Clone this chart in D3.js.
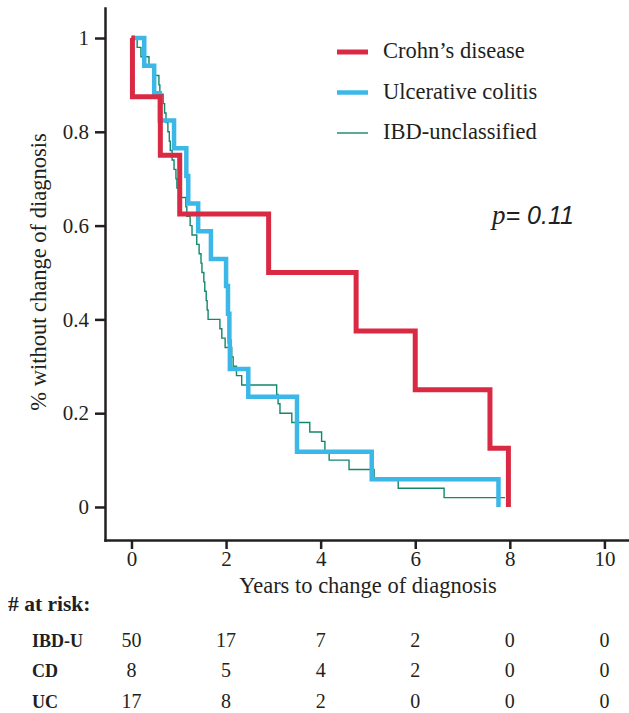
<!DOCTYPE html>
<html>
<head>
<meta charset="utf-8">
<script src="https://cdn.jsdelivr.net/npm/d3@7"></script>
<style>
  body { margin: 0; background: #fff; }
  svg text { font-family: "Liberation Serif", "DejaVu Serif", serif; fill: #231f20; }
  .axis path, .axis line { stroke: #231f20; stroke-width: 2.5; }
  .axis text { font-size: 21px; }
</style>
</head>
<body>
<script>
// Kaplan-Meier steps (time in years, survival after each step)
var cdTimes = [0, 0.02, 0.61, 1.02, 2.9, 4.75, 6.0, 7.58, 7.97];
var cdSurv  = [1, 0.875, 0.75, 0.625, 0.5, 0.375, 0.25, 0.125, 0];
var cdEnd = 7.97;

var ucTimes = [0, 0.27, 0.48, 0.6, 0.9, 1.16, 1.2, 1.41, 1.68, 2.0, 2.04, 2.07, 2.08, 2.47, 3.5, 5.08, 7.76];
var ucSurv  = [1, 0.941, 0.882, 0.824, 0.765, 0.706, 0.647, 0.588, 0.529, 0.471, 0.412, 0.353, 0.294, 0.235, 0.118, 0.059, 0];
var ucEnd = 7.76;

var ibduTimes = [0, 0.12, 0.2, 0.37, 0.5, 0.58, 0.6, 0.67, 0.7, 0.73, 0.77, 0.8, 0.82, 0.86, 0.9, 0.94, 0.96,
                 1.03, 1.15, 1.17, 1.24, 1.28, 1.38, 1.43, 1.47, 1.49, 1.53, 1.55, 1.58, 1.6, 1.62,
                 1.87, 1.91, 1.98, 2.12, 2.15, 2.22, 2.33, 3.07, 3.1, 3.14, 3.39, 3.77, 4.02, 4.09, 4.18,
                 4.6, 5.13, 5.64, 6.61];
var ibduSurv  = [1, 0.98, 0.96, 0.94, 0.92, 0.90, 0.88, 0.86, 0.84, 0.82, 0.80, 0.78, 0.76, 0.74, 0.72, 0.70, 0.68,
                 0.66, 0.64, 0.62, 0.60, 0.58, 0.56, 0.54, 0.52, 0.50, 0.48, 0.46, 0.44, 0.42, 0.40,
                 0.38, 0.36, 0.34, 0.32, 0.30, 0.28, 0.26, 0.24, 0.22, 0.20, 0.18, 0.16, 0.14, 0.12, 0.10,
                 0.08, 0.06, 0.04, 0.02];
var ibduEnd = 7.9;

// legend + numbers at risk
var seriesNames = ["Crohn\u2019s disease", "Ulcerative colitis", "IBD-unclassified"];
var riskTimes = [0, 2, 4, 6, 8, 10];
var riskGroups = ["IBD-U", "CD", "UC"];
var riskIBDU = [50, 17, 7, 2, 0, 0];
var riskCD   = [8, 5, 4, 2, 0, 0];
var riskUC   = [17, 8, 2, 0, 0, 0];
var xTicks = [0, 2, 4, 6, 8, 10];
var yTicks = [0, 0.2, 0.4, 0.6, 0.8, 1];

var width = 629, height = 713;

var svg = d3.select("body").append("svg")
    .attr("width", width)
    .attr("height", height);

// scales (domains stretched so axis lines run past the data)
var x = d3.scaleLinear().domain([-0.56, 10.52]).range([105, 629]);
var y = d3.scaleLinear().domain([-0.0704, 1.064]).range([540, 8]);

// axes
svg.append("g")
    .attr("class", "axis")
    .attr("transform", "translate(0,540)")
    .call(d3.axisBottom(x).tickValues(xTicks).tickSize(9).tickPadding(2).tickSizeOuter(0));

svg.append("g")
    .attr("class", "axis")
    .attr("transform", "translate(105,0)")
    .call(d3.axisLeft(y).tickValues(yTicks).tickSize(10).tickPadding(6).tickSizeOuter(0)
        .tickFormat(function(d){ return d === 0 || d === 1 ? d : d3.format(".1f")(d); }));

svg.selectAll(".axis .domain").attr("stroke-linecap", "square");

// axis titles
svg.append("text")
    .attr("x", 368).attr("y", 593)
    .attr("text-anchor", "middle")
    .style("font-size", "22.5px")
    .text("Years to change of diagnosis");

svg.append("text")
    .attr("transform", "translate(46,272) rotate(-90)")
    .attr("text-anchor", "middle")
    .style("font-size", "22.5px")
    .text("% without change of diagnosis");

// survival curves
function stepPoints(times, surv, end){
    var pts = times.map(function(t, i){ return [t, surv[i]]; });
    if (end > times[times.length - 1]) pts.push([end, surv[surv.length - 1]]);
    return pts;
}

var line = d3.line()
    .x(function(d){ return x(d[0]); })
    .y(function(d){ return y(d[1]); })
    .curve(d3.curveStepAfter);

var curves = [
    {pts: stepPoints(ibduTimes, ibduSurv, ibduEnd), color: "#12876a", w: 1.4},
    {pts: stepPoints(ucTimes, ucSurv, ucEnd), color: "#3bb8e8", w: 4.5},
    {pts: stepPoints(cdTimes, cdSurv, cdEnd), color: "#da2a43", w: 5}
];

svg.selectAll(".km")
    .data(curves)
    .enter()
    .append("path")
    .attr("class", "km")
    .attr("fill", "none")
    .attr("stroke", function(d){ return d.color; })
    .attr("stroke-width", function(d){ return d.w; })
    .attr("d", function(d){ return line(d.pts); });

// legend
var legColors = ["#da2a43", "#3bb8e8", "#12876a"],
    legWidths = [5, 4.5, 1.4];

var leg = svg.selectAll(".leg")
    .data(seriesNames)
    .enter()
    .append("g")
    .attr("class", "leg")
    .attr("transform", function(d, i){ return "translate(337," + (52 + i * 40.5) + ")"; });

leg.append("line")
    .attr("x1", 0).attr("x2", 31)
    .attr("stroke", function(d, i){ return legColors[i]; })
    .attr("stroke-width", function(d, i){ return legWidths[i]; });

leg.append("text")
    .attr("x", 46).attr("y", 6)
    .style("font-size", "22.5px")
    .text(function(d){ return d; });

// p value
var pv = svg.append("text")
    .attr("x", 492).attr("y", 224)
    .style("font-size", "27px")
    .style("font-style", "italic");
pv.append("tspan").text("p");
pv.append("tspan").style("font-family", "'Liberation Sans', sans-serif").style("font-size", "25px").text("= 0.11");

// numbers at risk
svg.append("text")
    .attr("x", 8).attr("y", 611)
    .style("font-size", "21.5px")
    .style("font-weight", "bold")
    .text("# at risk:");

var riskRows = [riskIBDU, riskCD, riskUC];
var rowY = [647, 677, 708];

var rows = svg.selectAll(".risk")
    .data(riskGroups)
    .enter()
    .append("g")
    .attr("class", "risk")
    .attr("transform", function(d, i){ return "translate(0," + rowY[i] + ")"; });

rows.append("text")
    .attr("x", 32)
    .style("font-size", "18px")
    .style("font-weight", "bold")
    .text(function(d){ return d; });

rows.selectAll(".n")
    .data(function(d, i){ return riskRows[i]; })
    .enter()
    .append("text")
    .attr("class", "n")
    .attr("x", function(d, j){ return x(riskTimes[j]); })
    .attr("text-anchor", "middle")
    .style("font-size", "20px")
    .text(function(d){ return d; });
</script>
</body>
</html>
